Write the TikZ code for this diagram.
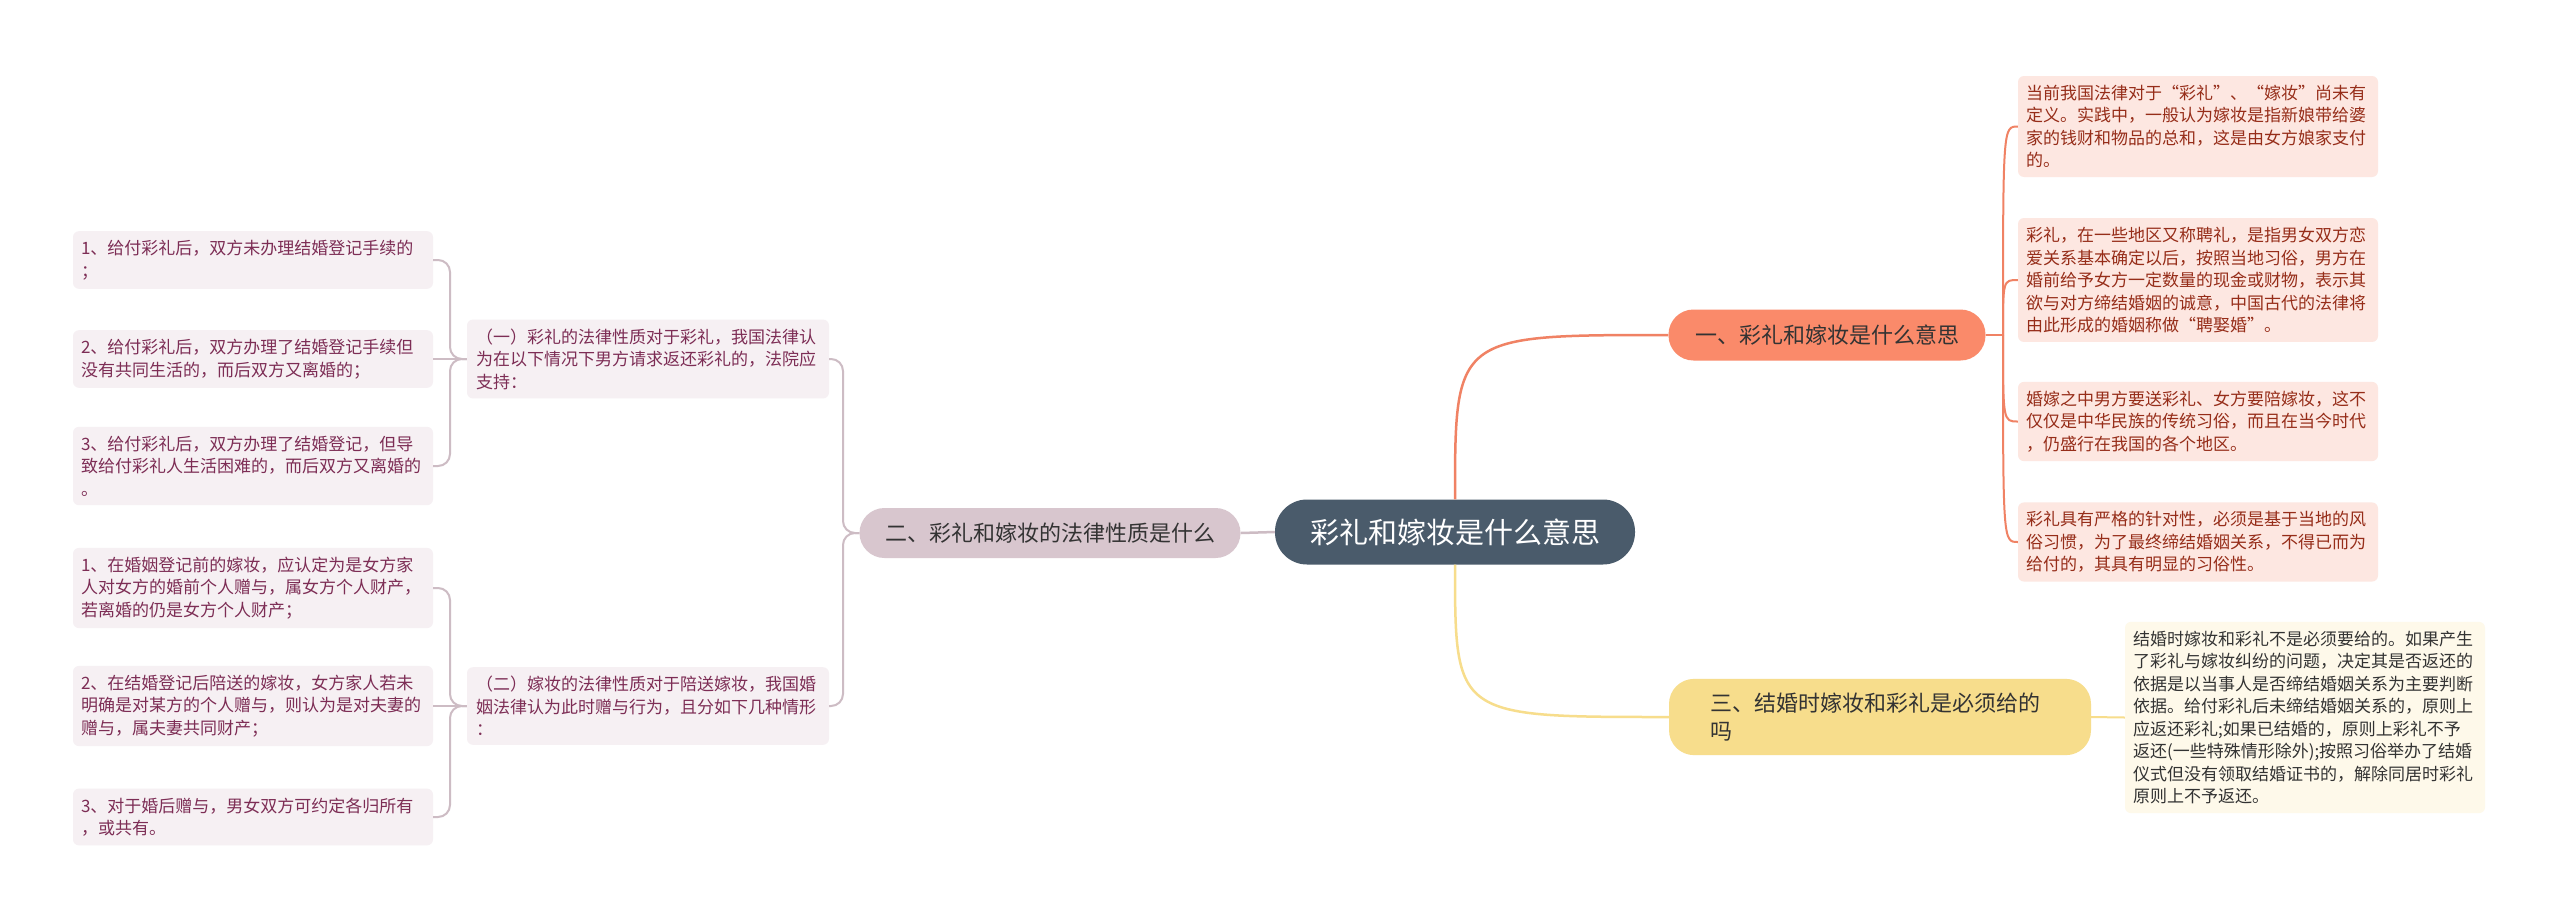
\documentclass[tikz,border=0pt]{standalone}
\usepackage{fontspec}
\setmainfont{Noto Sans CJK SC}
\usepackage{tikz}
\usepackage{xcolor}
\usetikzlibrary{positioning,calc}
\definecolor{rootSlate}{RGB}{74,91,107}
\definecolor{brideOrange}{RGB}{250,138,106}
\definecolor{brideLine}{RGB}{240,130,100}
\definecolor{brideLeaf}{RGB}{253,231,225}
\definecolor{brideText}{RGB}{150,45,25}
\definecolor{lawMauve}{RGB}{216,198,206}
\definecolor{lawLine}{RGB}{205,188,196}
\definecolor{lawLeaf}{RGB}{246,240,243}
\definecolor{lawText}{RGB}{125,45,85}
\definecolor{giftYellow}{RGB}{247,221,140}
\definecolor{giftLeaf}{RGB}{254,249,234}
\definecolor{darkText}{RGB}{51,51,51}

\begin{document}
\begin{tikzpicture}[x=1pt,y=-1pt,
    rootbox/.style={fill=rootSlate, text=white, rounded corners=32pt,
        minimum width=360pt, minimum height=65pt, font=\fontsize{29}{34}\selectfont},
    branchbox/.style={rounded corners=25pt, text=darkText, font=\fontsize{22}{28}\selectfont},
    leafbox/.style={rounded corners=6pt, text width=344pt, inner xsep=8pt, inner ysep=9pt,
        align=left, font=\fontsize{17}{22.5}\selectfont},
    brideleaf/.style={leafbox, fill=brideLeaf, text=brideText},
    lawleaf/.style={leafbox, fill=lawLeaf, text=lawText},
    giftleaf/.style={leafbox, fill=giftLeaf, text=darkText}]
    \useasboundingbox (0,0) rectangle (2560,922);
    \fill[white] (0,0) rectangle (2560,922);

    % root
    \node[rootbox] (root) at (1455,532) {彩礼和嫁妆是什么意思};

    % branch one
    \node[branchbox, fill=brideOrange, minimum width=317pt, minimum height=51pt] (yi) at (1827,335) {一、彩礼和嫁妆是什么意思};
    \node[brideleaf] (yi1) at (2198,126.5) {当前我国法律对于“彩礼”、“嫁妆”尚未有\\定义。实践中，一般认为嫁妆是指新娘带给婆\\家的钱财和物品的总和，这是由女方娘家支付\\的。};
    \node[brideleaf] (yi2) at (2198,280) {彩礼，在一些地区又称聘礼，是指男女双方恋\\爱关系基本确定以后，按照当地习俗，男方在\\婚前给予女方一定数量的现金或财物，表示其\\欲与对方缔结婚姻的诚意，中国古代的法律将\\由此形成的婚姻称做“聘娶婚”。};
    \node[brideleaf] (yi3) at (2198,421.5) {婚嫁之中男方要送彩礼、女方要陪嫁妆，这不\\仅仅是中华民族的传统习俗，而且在当今时代\\，仍盛行在我国的各个地区。};
    \node[brideleaf] (yi4) at (2198,542) {彩礼具有严格的针对性，必须是基于当地的风\\俗习惯，为了最终缔结婚姻关系，不得已而为\\给付的，其具有明显的习俗性。};

    % branch two
    \node[branchbox, fill=lawMauve, minimum width=381pt, minimum height=50pt] (er) at (1050,533) {二、彩礼和嫁妆的法律性质是什么};
    \node[lawleaf, text width=344pt, inner xsep=9pt] (er1) at (648,359) {（一）彩礼的法律性质对于彩礼，我国法律认\\为在以下情况下男方请求返还彩礼的，法院应\\支持：};
    \node[lawleaf, text width=344pt, inner xsep=9pt] (er2) at (648,706) {（二）嫁妆的法律性质对于陪送嫁妆，我国婚\\姻法律认为此时赠与行为，且分如下几种情形\\：};
    \node[lawleaf] (er1a) at (253,260) {1、给付彩礼后，双方未办理结婚登记手续的\\；};
    \node[lawleaf] (er1b) at (253,359) {2、给付彩礼后，双方办理了结婚登记手续但\\没有共同生活的，而后双方又离婚的；};
    \node[lawleaf] (er1c) at (253,466) {3、给付彩礼后，双方办理了结婚登记，但导\\致给付彩礼人生活困难的，而后双方又离婚的\\。};
    \node[lawleaf] (er2a) at (253,588) {1、在婚姻登记前的嫁妆，应认定为是女方家\\人对女方的婚前个人赠与，属女方个人财产，\\若离婚的仍是女方个人财产；};
    \node[lawleaf] (er2b) at (253,706) {2、在结婚登记后陪送的嫁妆，女方家人若未\\明确是对某方的个人赠与，则认为是对夫妻的\\赠与，属夫妻共同财产；};
    \node[lawleaf] (er2c) at (253,817) {3、对于婚后赠与，男女双方可约定各归所有\\，或共有。};

    % branch three
    \node[branchbox, fill=giftYellow, text width=340pt, align=left, inner xsep=41pt, inner ysep=14pt] (san) at (1880,717) {三、结婚时嫁妆和彩礼是必须给的\\吗};
    \node[giftleaf] (san1) at (2305,717.5) {结婚时嫁妆和彩礼不是必须要给的。如果产生\\了彩礼与嫁妆纠纷的问题，决定其是否返还的\\依据是以当事人是否缔结婚姻关系为主要判断\\依据。给付彩礼后未缔结婚姻关系的，原则上\\应返还彩礼;如果已结婚的，原则上彩礼不予\\返还(一些特殊情形除外);按照习俗举办了结婚\\仪式但没有领取结婚证书的，解除同居时彩礼\\原则上不予返还。};

    % connectors
    \draw[brideLine, line width=2.5pt] (root.north) .. controls (1455,335) .. (yi.west);
    \coordinate (yiR) at (2003,335);
    \draw[brideLine, line width=2pt] (yi.east) -- (yiR);
    \foreach \n in {yi1,yi2,yi3,yi4}
        \draw[brideLine, line width=2pt] (yiR) .. controls (yiR |- \n.west) .. (\n.west);

    \draw[lawLine, line width=2.5pt] (root.west) -- (er.east);
    \coordinate (erL) at (843,533);
    \foreach \n in {er1,er2}
        \draw[lawLine, line width=2pt, rounded corners=12pt] (er.west) -- (erL) |- (\n.east);
    \coordinate (er1L) at (450,359);
    \coordinate (er2L) at (450,706);
    \foreach \n in {er1a,er1c}
        \draw[lawLine, line width=2pt, rounded corners=12pt] (er1.west) -- (er1L) |- (\n.east);
    \draw[lawLine, line width=2pt] (er1.west) -- (er1b.east);
    \foreach \n in {er2a,er2c}
        \draw[lawLine, line width=2pt, rounded corners=12pt] (er2.west) -- (er2L) |- (\n.east);
    \draw[lawLine, line width=2pt] (er2.west) -- (er2b.east);

    \draw[giftYellow, line width=2.5pt] (root.south) .. controls (1455,717) .. (san.west);
    \draw[giftYellow, line width=2pt] (san.east) -- (san1.west);
\end{tikzpicture}
\end{document}
